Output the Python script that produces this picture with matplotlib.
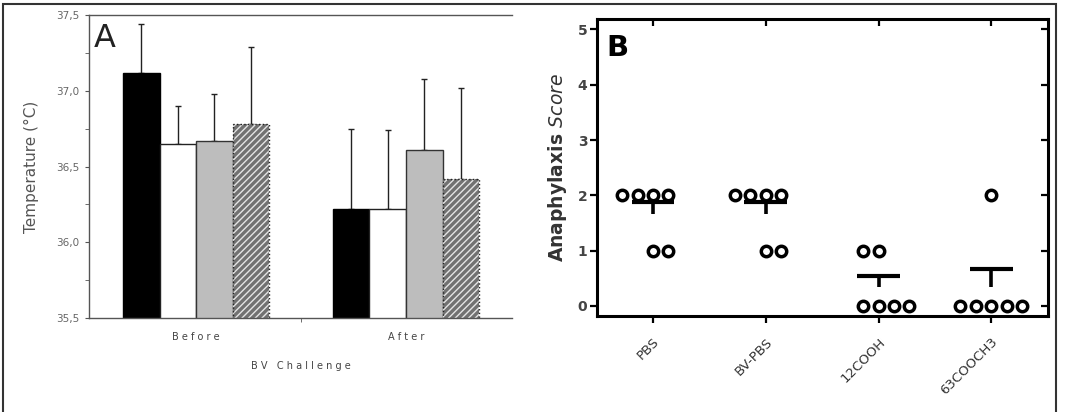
import numpy as np
import matplotlib
matplotlib.use('Agg')
import matplotlib.pyplot as plt
from matplotlib.patches import Rectangle

# panel A data: mean body temperature and upper SD, per treatment group
phases = ['Before', 'After']
temp_black = [37.12, 36.22]
temp_white = [36.65, 36.22]
temp_gray = [36.67, 36.61]
temp_hatch = [36.78, 36.42]
err_black = [0.32, 0.53]
err_white = [0.25, 0.52]
err_gray = [0.31, 0.47]
err_hatch = [0.51, 0.60]
temp_ticks = [35.5, 36.0, 36.5, 37.0, 37.5]
temp_ticklabels = ['35,5', '36,0', '36,5', '37,0', '37,5']

# panel B data: individual anaphylaxis scores
groups = ['PBS', 'BV-PBS', '12COOH', '63COOCH3']
scores_pbs = [2, 2, 2, 2, 1, 1]
scores_bvpbs = [2, 2, 2, 2, 1, 1]
scores_12cooh = [1, 1, 0, 0, 0, 0]
scores_63cooch3 = [2, 0, 0, 0, 0, 0]

fig = plt.figure(figsize=(10.71, 4.12), dpi=100)

"""Panel A"""
axA = fig.add_axes([0.0831, 0.228, 0.395, 0.7354])
x = np.arange(len(phases))
w = 0.174
axA.bar(x - 1.5 * w, temp_black, w, color='black', edgecolor='black', lw=1, zorder=2)
axA.bar(x - 0.5 * w, temp_white, w, color='white', edgecolor='#222222', lw=1, zorder=2)
axA.bar(x + 0.5 * w, temp_gray, w, color='#bdbdbd', edgecolor='#333333', lw=1, zorder=2)
plt.rcParams['hatch.linewidth'] = 1.0
axA.bar(x + 1.5 * w, temp_hatch, w, color='#727272', edgecolor='#e4e4e4', hatch='/////', lw=0, zorder=2)
axA.bar(x + 1.5 * w, temp_hatch, w, color='none', edgecolor='#222222', lw=1, ls=':', zorder=3)

for off, m, e in [(-1.5, temp_black, err_black), (-0.5, temp_white, err_white),
                  (0.5, temp_gray, err_gray), (1.5, temp_hatch, err_hatch)]:
    axA.errorbar(x + off * w, m, yerr=[np.zeros(len(e)), e], fmt='none',
                 ecolor='#222222', elinewidth=1, capsize=2.5, capthick=1, zorder=1)

axA.set_ylim(35.5, 37.5)
axA.set_xlim(-0.51, 1.505)
axA.set_yticks(temp_ticks)
axA.set_yticklabels(temp_ticklabels, fontsize=7.5, color='#666666')
axA.set_yticks([35.75, 36.25, 36.75, 37.25], minor=True)
axA.tick_params(axis='y', which='both', direction='out', length=3, color='#555555', pad=4)
axA.set_xticks(x)
axA.set_xticklabels(['B e f o r e', 'A f t e r'], fontsize=7, color='#444444')
axA.set_xticks([0.5], minor=True)
axA.tick_params(axis='x', which='major', length=0, pad=10)
axA.tick_params(axis='x', which='minor', length=3, color='#555555')
axA.set_xlabel('B V   C h a l l e n g e', fontsize=7, color='#444444', labelpad=14)
axA.set_ylabel('Temperature (°C)', fontsize=11, color='#555555', labelpad=12)
for s in ['left', 'bottom', 'top']:
    axA.spines[s].set_color('#555555')
    axA.spines[s].set_linewidth(1)
axA.spines['right'].set_visible(False)
axA.text(0.012, 0.975, 'A', transform=axA.transAxes, fontsize=23, va='top', ha='left', color='#222222')

"""Panel B"""
axB = fig.add_axes([0.5574, 0.2337, 0.4208, 0.7202])
# starting slot for each row of equal scores (layout only)
start_slot = [{2: -2, 1: 0}, {2: -2, 1: 0}, {1: -1, 0: -1}, {2: 0, 0: -2}]
slot = 0.137
all_scores = [scores_pbs, scores_bvpbs, scores_12cooh, scores_63cooch3]
for i, sc in enumerate(all_scores):
    sc = np.array(sc)
    mean = sc.mean()
    sem = sc.std(ddof=1) / np.sqrt(len(sc))
    axB.plot([i, i], [mean, mean + sem], color='black', lw=2.6, zorder=2, solid_capstyle='butt')
    axB.plot([i - 0.19, i + 0.19], [mean + sem, mean + sem], color='black', lw=3, zorder=2,
             solid_capstyle='butt')
    for v in sorted(set(sc.tolist()), reverse=True):
        n = int((sc == v).sum())
        xs = i + (start_slot[i][v] + np.arange(n)) * slot
        axB.plot(xs, [v] * n, 'o', ms=7.5, mfc='white', mec='black', mew=2.5, zorder=3)

axB.set_xlim(-0.497, 3.5)
axB.set_ylim(-0.18, 5.19)
axB.set_yticks(range(6))
axB.set_yticklabels([str(v) for v in range(6)], fontsize=10, fontweight='bold', color='#444444')
axB.set_xticks(range(4))
axB.set_xticklabels(groups, rotation=45, ha='right', rotation_mode='anchor',
                    fontsize=9.5, color='#333333')
axB.tick_params(axis='x', which='major', direction='out', length=5, width=1.6, pad=9)
axB.tick_params(axis='y', which='major', direction='out', length=5, width=1.6, pad=2)
axB.tick_params(top=True, right=True, which='major')
for t in axB.xaxis.get_major_ticks():
    t.tick2line.set_marker(3)
    t.tick2line.set_markersize(5)
for t in axB.yaxis.get_major_ticks():
    t.tick2line.set_marker(0)
    t.tick2line.set_markersize(5)
axB.set_ylabel(r'Anaphylaxis $\it{Score}$', fontsize=13.5, fontweight='bold', color='#333333', labelpad=6)
for s in axB.spines.values():
    s.set_linewidth(2.2)
    s.set_color('black')
axB.text(0.02, 0.95, 'B', transform=axB.transAxes, fontsize=21, fontweight='bold', va='top', ha='left')

# outer frame around the figure
frame = Rectangle((3 / 1071, -0.1), 1052.5 / 1071, 1.1 - 4 / 412, transform=fig.transFigure,
                  fill=False, edgecolor='#333333', lw=1.5, clip_on=False)
fig.patches.append(frame)

plt.savefig('out.png', dpi=100)
